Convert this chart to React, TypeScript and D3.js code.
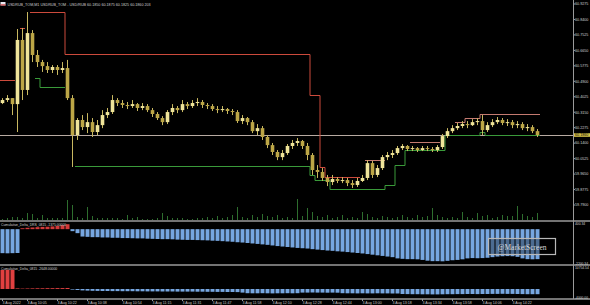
import React, { useEffect } from "react";
import * as d3 from "d3";

const titleText = "USDRUB_TOM,M1  USDRUB_TOM - USD/RUB  60.1850 60.1875 60.1825 60.1860  203";
const panel2Title = "Cumulative_Delta_DRS_0815 -1375.00000";
const panel3Title = "Cumulative_Delta_0815 -2648.00000";

const opens = [60.367, 60.384, 60.395, 60.361, 60.724, 60.441, 60.763, 60.639, 60.599, 60.576, 60.554, 60.571, 60.554, 60.565, 60.395, 60.186, 60.271, 60.231, 60.259, 60.203, 60.242, 60.299, 60.316, 60.384, 60.367, 60.356, 60.350, 60.361, 60.339, 60.350, 60.327, 60.305, 60.282, 60.259, 60.316, 60.339, 60.327, 60.361, 60.350, 60.367, 60.373, 60.356, 60.350, 60.333, 60.327, 60.333, 60.322, 60.316, 60.265, 60.282, 60.259, 60.208, 60.225, 60.175, 60.129, 60.090, 60.061, 60.084, 60.124, 60.141, 60.152, 60.124, 60.073, 59.988, 59.977, 59.943, 59.920, 59.937, 59.926, 59.931, 59.914, 59.903, 59.926, 59.943, 60.027, 59.960, 59.999, 60.061, 60.073, 60.084, 60.112, 60.124, 60.107, 60.112, 60.101, 60.112, 60.107, 60.101, 60.118, 60.180, 60.208, 60.225, 60.237, 60.248, 60.242, 60.259, 60.265, 60.214, 60.242, 60.259, 60.271, 60.254, 60.259, 60.242, 60.248, 60.225, 60.231, 60.208];
const closes = [60.384, 60.395, 60.361, 60.724, 60.441, 60.763, 60.639, 60.599, 60.576, 60.554, 60.571, 60.554, 60.565, 60.395, 60.186, 60.271, 60.231, 60.259, 60.203, 60.242, 60.299, 60.316, 60.384, 60.367, 60.356, 60.350, 60.361, 60.339, 60.350, 60.327, 60.305, 60.282, 60.259, 60.316, 60.339, 60.327, 60.361, 60.350, 60.367, 60.373, 60.356, 60.350, 60.333, 60.327, 60.333, 60.322, 60.316, 60.265, 60.282, 60.259, 60.208, 60.225, 60.175, 60.129, 60.090, 60.061, 60.084, 60.124, 60.141, 60.152, 60.124, 60.073, 59.988, 59.977, 59.943, 59.920, 59.937, 59.926, 59.931, 59.914, 59.903, 59.926, 59.943, 60.027, 59.960, 59.999, 60.061, 60.073, 60.084, 60.112, 60.124, 60.107, 60.112, 60.101, 60.112, 60.107, 60.101, 60.118, 60.180, 60.208, 60.225, 60.237, 60.248, 60.242, 60.259, 60.265, 60.214, 60.242, 60.259, 60.271, 60.254, 60.259, 60.242, 60.248, 60.225, 60.231, 60.208, 60.186];
const highs = [60.395, 60.412, 60.395, 60.786, 60.792, 60.882, 60.780, 60.667, 60.611, 60.599, 60.582, 60.582, 60.599, 60.611, 60.412, 60.282, 60.299, 60.310, 60.282, 60.271, 60.327, 60.339, 60.412, 60.395, 60.384, 60.373, 60.384, 60.367, 60.367, 60.361, 60.339, 60.316, 60.293, 60.327, 60.361, 60.350, 60.384, 60.373, 60.384, 60.395, 60.384, 60.367, 60.361, 60.350, 60.350, 60.339, 60.333, 60.327, 60.299, 60.288, 60.271, 60.248, 60.237, 60.186, 60.141, 60.101, 60.101, 60.135, 60.158, 60.169, 60.158, 60.141, 60.084, 60.016, 59.999, 59.960, 59.960, 59.948, 59.948, 59.943, 59.931, 59.943, 59.960, 60.044, 60.039, 60.016, 60.073, 60.090, 60.101, 60.124, 60.135, 60.129, 60.124, 60.118, 60.124, 60.124, 60.118, 60.129, 60.192, 60.225, 60.242, 60.254, 60.265, 60.265, 60.276, 60.282, 60.299, 60.259, 60.276, 60.288, 60.282, 60.276, 60.271, 60.265, 60.259, 60.248, 60.242, 60.220];
const lows = [60.361, 60.373, 60.299, 60.203, 60.384, 60.412, 60.599, 60.571, 60.543, 60.537, 60.537, 60.526, 60.537, 60.384, 60.005, 60.158, 60.214, 60.197, 60.175, 60.186, 60.225, 60.282, 60.305, 60.350, 60.339, 60.333, 60.339, 60.322, 60.327, 60.316, 60.288, 60.271, 60.242, 60.248, 60.299, 60.310, 60.316, 60.333, 60.339, 60.350, 60.339, 60.333, 60.322, 60.310, 60.316, 60.305, 60.299, 60.254, 60.248, 60.242, 60.197, 60.186, 60.158, 60.112, 60.073, 60.044, 60.044, 60.073, 60.107, 60.124, 60.107, 60.044, 59.960, 59.943, 59.926, 59.897, 59.903, 59.914, 59.914, 59.897, 59.886, 59.892, 59.920, 59.931, 59.943, 59.948, 59.988, 60.044, 60.056, 60.073, 60.101, 60.095, 60.095, 60.090, 60.095, 60.095, 60.090, 60.090, 60.107, 60.169, 60.197, 60.214, 60.225, 60.225, 60.237, 60.242, 60.186, 60.203, 60.231, 60.248, 60.242, 60.237, 60.225, 60.225, 60.214, 60.208, 60.197, 60.175];
const volumes = [10, 20, 30, 30, 20, 70, 60, 20, 50, 20, 20, 20, 20, 200, 150, 30, 20, 130, 40, 20, 20, 20, 20, 20, 10, 50, 20, 30, 10, 10, 10, 20, 70, 40, 20, 20, 20, 10, 10, 20,
  20, 30, 20, 40, 20, 30, 50, 130, 30, 20, 50, 30, 60, 40, 30, 50, 20, 30, 20, 210, 40, 120, 80, 40, 30, 50, 20, 30, 50, 20, 30, 20, 80, 60, 30, 20, 40, 30, 20, 30, 50, 30, 20, 50, 30, 40, 120, 50, 30, 20, 30, 20, 80, 30, 20, 70, 40, 50, 20, 30, 50, 40, 40, 140, 60, 40, 30, 70];

// resistance / support levels as runs over candle indices
const upperLevels = [
  { from: 0, to: 2, value: 60.497 }, { from: 4, to: 4, value: 60.792 }, { from: 6, to: 12, value: 60.882 },
  { from: 13, to: 61, value: 60.644 }, { from: 62, to: 63, value: 60.412 }, { from: 64, to: 64, value: 60.005 },
  { from: 65, to: 71, value: 59.948 }, { from: 73, to: 76, value: 60.044 }, { from: 82, to: 87, value: 60.146 },
  { from: 91, to: 92, value: 60.259 }, { from: 93, to: 95, value: 60.282 }, { from: 96, to: 107, value: 60.305 },
];
const lowerLevels = [
  { from: 7, to: 7, value: 60.509 }, { from: 8, to: 12, value: 60.458 }, { from: 15, to: 61, value: 60.010 },
  { from: 62, to: 62, value: 59.960 }, { from: 63, to: 65, value: 59.931 }, { from: 66, to: 76, value: 59.880 },
  { from: 77, to: 78, value: 59.903 }, { from: 79, to: 80, value: 60.016 }, { from: 81, to: 88, value: 60.101 },
  { from: 89, to: 95, value: 60.186 }, { from: 96, to: 96, value: 60.203 }, { from: 97, to: 107, value: 60.186 },
];

const deltaDrs = [-1560, -1570, -1560, -1550, 60, 90, 110, 130, 150, 160, 180, 210, 260, 320,
  -130, -260, -480, -500, -520, -520, -540, -540, -560, -560, -580, -580, -590, -600, -600, -620, -630, -640, -650, -650, -660, -680, -690, -700, -700, -710,
  -720, -730, -750, -760, -780, -800, -820, -850, -870, -900,
  -930, -960, -990, -1020, -1060, -1100, -1130, -1160, -1190, -1220,
  -1240, -1260, -1300, -1330, -1360, -1390, -1410, -1440, -1460, -1490,
  -1520, -1550, -1580, -1620, -1660, -1700, -1740, -1780, -1820, -1900,
  -1930, -1950, -1950, -1960, -2000, -2050, -2080, -2080, -2090, -2060,
  -2020, -2000, -1960, -1900, -1880, -1890, -1880, -1860, -1820, -1780,
  -1760, -1750, -1760, -1800, -1900, -1950, -1960, -1950];
const deltaCum = [9500, 9600, 9500, 300, 200, 250, 300, 350, 350, 400, 400, 450, 450, 500,
  -300, -500, -700, -800, -900, -950, -1000, -1000, -1050, -1050, -1100, -1100, -1100, -1150, -1150, -1200, -1200, -1200, -1250, -1250, -1250, -1300, -1300, -1300, -1300, -1350,
  -1350, -1400, -1400, -1450, -1450, -1500, -1500, -1550, -1800,
  -2100, -2150, -2150, -2100, -2150, -2200, -2150, -2150, -2100, -2150, -2100,
  -1800, -1800, -1750, -1800, -1800, -1850, -1800, -1850,
  -2100, -2150, -2150, -2200, -2150, -2200, -2200, -2150, -2200, -2200, -2250, -2250,
  -2500, -2550, -2600, -2600, -2650, -2650, -2700, -2700, -2650, -2600, -2600, -2550, -2550, -2500, -2500, -2550, -2500, -2500, -2450, -2450, -2400, -2450, -2450, -2500, -2550, -2600, -2600, -2600];

const priceTicks = [60.9275, 60.84, 60.7525, 60.665, 60.5775, 60.49, 60.4025, 60.315, 60.2275, 60.14, 60.0525, 59.965, 59.8775, 59.79];
const drsTicks = [400.34, -2200.34];
const cumTicks = [10754.54, -4000];
const timeTickIndex = [0, 5, 11, 17, 24, 30, 36, 42, 48, 54, 60, 66, 72, 78, 84, 90, 96, 102];
const timeTickLabels = ["3 Aug 2022", "3 Aug 10:05", "3 Aug 10:22", "3 Aug 10:38", "3 Aug 10:54", "3 Aug 11:15", "3 Aug 11:31", "3 Aug 11:47", "3 Aug 11:58", "3 Aug 12:10", "3 Aug 12:28", "3 Aug 12:44", "3 Aug 13:00", "3 Aug 13:18", "3 Aug 13:34", "3 Aug 13:58", "3 Aug 14:06", "3 Aug 14:22"];

const W = 590, H = 305, AX = 573.5;
const FONT = "'Liberation Sans', Arial, sans-serif";

function expand(levels: { from: number; to: number; value: number }[], n: number) {
  const arr: (number | null)[] = new Array(n).fill(null);
  levels.forEach((l) => { for (let i = l.from; i <= l.to; i++) arr[i] = l.value; });
  return arr;
}

function AxisLabel({ y, text, color, size = 3.7 }: { y: number; text: string; color: string; size?: number }) {
  return (
    <text x={575} y={y} fontFamily={FONT} fontSize={size} fill={color}>{text}</text>
  );
}

export default function App() {
  useEffect(() => { document.body.style.margin = "0"; document.body.style.background = "#000"; }, []);
  const n = closes.length;
  const x = d3.scaleLinear().domain([0, n]).range([0, 540]);
  const yP = d3.scaleLinear().domain([59.79, 60.9275]).range([205, 4]);
  const yV = d3.scaleLinear().domain([0, 220]).range([220, 198]);
  const yD = d3.scaleLinear().domain([-2200.34, 400.34]).range([263, 223]);
  const yC = d3.scaleLinear().domain([-4000, 11000]).range([297, 267]);

  const levelPath = (vals: (number | null)[], keep: (i: number) => boolean) => {
    const pts: { x: number; v: number | null }[] = [];
    vals.forEach((v, i) => {
      const vv = keep(i) ? v : null;
      pts.push({ x: x(i), v: vv }, { x: x(i + 1), v: vv });
    });
    return d3.line<{ x: number; v: number | null }>().defined((d) => d.v != null).x((d) => d.x).y((d) => Math.round(yP(d.v as number)) + 0.5)(pts) || "";
  };
  const upper = expand(upperLevels, n);
  const lower = expand(lowerLevels, n);
  const last = closes[n - 1];

  return (
    <div style={{ position: "absolute", left: 0, top: 0, width: W, height: H, background: "#000" }}>
      <svg width={W} height={H} style={{ display: "block" }}>
        <rect width={W} height={H} fill="#000" />
        {/* volumes */}
        {volumes.map((v, i) => (
          <rect key={"v" + i} x={x(i) + 2} y={yV(v)} width={1} height={yV(0) - yV(v)} fill="#2e6e2e" />
        ))}
        {/* current price line */}
        <line x1={0} x2={AX} y1={Math.round(yP(last)) + 0.5} y2={Math.round(yP(last)) + 0.5} stroke="#b8aaa2" strokeWidth={1} />
        {/* levels */}
        <path d={levelPath(upper, (i) => i < 72)} fill="none" stroke="#cc4a3c" strokeWidth={1} />
        <path d={levelPath(upper, (i) => i >= 72)} fill="none" stroke="#c47a70" strokeWidth={1} />
        <path d={levelPath(lower, () => true)} fill="none" stroke="#3a9a3a" strokeWidth={1} />
        {/* candles */}
        {closes.map((c, i) => {
          const o = opens[i];
          const cx = x(i) + 2.5;
          const top = yP(Math.max(o, c));
          const bot = yP(Math.min(o, c));
          const up = c >= o;
          return (
            <g key={"c" + i}>
              <line x1={cx} x2={cx} y1={yP(highs[i])} y2={yP(lows[i])} stroke="#c8b860" strokeWidth={1} />
              <rect x={cx - 1.8} y={top} width={3.6} height={Math.max(1, bot - top)} fill={up ? "#efe49a" : "#bca646"} />
            </g>
          );
        })}
        {/* panel 2 */}
        {deltaDrs.map((v, i) => (
          <rect key={"d" + i} x={x(i) + 0.5} width={4} y={Math.min(yD(v), yD(0))} height={Math.abs(yD(v) - yD(0))} fill={v >= 0 ? "#d23a3a" : "#76a6e0"} />
        ))}
        {/* panel 3 */}
        {deltaCum.map((v, i) => (
          <rect key={"u" + i} x={x(i) + 0.5} width={4} y={Math.min(yC(v), yC(0))} height={Math.abs(yC(v) - yC(0))} fill={v >= 0 ? "#e04040" : "#76a6e0"} />
        ))}
        {/* watermark */}
        <rect x={488.5} y={238.5} width={67} height={16} fill="rgba(0,0,0,0.35)" stroke="#b8b8b8" strokeWidth={1.2} />
        <text x={522} y={249.5} textAnchor="middle" fontFamily="'Liberation Serif', 'Times New Roman', serif" fontSize={7.5} fill="#d8d8d8">@MarketScreen</text>
        {/* separators and axis */}
        {[221, 265, 299].map((yy) => (
          <line key={"s" + yy} x1={0} x2={W} y1={yy} y2={yy} stroke="#9a9a9a" strokeWidth={1.5} />
        ))}
        <line x1={AX} x2={AX} y1={0} y2={299} stroke="#9a9a9a" strokeWidth={1} />
        {priceTicks.map((t) => (
          <g key={"p" + t}>
            <line x1={AX} x2={AX + 1.5} y1={yP(t)} y2={yP(t)} stroke="#9a9a9a" />
            <AxisLabel y={yP(t) + 1.3} text={t.toFixed(4)} color="#d0d0d0" />
          </g>
        ))}
        <rect x={574} y={yP(last) - 1.8} width={16} height={3.6} fill="#d6c44a" />
        <AxisLabel y={yP(last) + 1.3} text={last.toFixed(4)} color="#000" />
        {drsTicks.map((t) => (
          <AxisLabel key={"dt" + t} y={yD(t) + 1.8} text={t.toFixed(2)} color="#d0d0d0" size={3.3} />
        ))}
        {cumTicks.map((t) => (
          <AxisLabel key={"ct" + t} y={yC(t) + 1.5} text={t.toFixed(2)} color="#d0d0d0" size={3.3} />
        ))}
        {/* titles */}
        <rect x={0.5} y={2} width={5} height={3.5} fill="#e8e8f0" />
        <rect x={0.5} y={4.3} width={5} height={1.2} fill="#d04040" />
        <text x={7.5} y={5.5} fontFamily={FONT} fontSize={3.7} fill="#cfcfcf">{titleText}</text>
        <text x={1} y={225.5} fontFamily={FONT} fontSize={3.4} fill="#cfcfcf">{panel2Title}</text>
        <text x={1} y={269.5} fontFamily={FONT} fontSize={3.4} fill="#cfcfcf">{panel3Title}</text>
        {/* time axis */}
        {timeTickIndex.map((ti, k) => (
          <g key={"t" + k}>
            <line x1={x(ti) + 2.5} x2={x(ti) + 2.5} y1={299} y2={301} stroke="#9a9a9a" />
            <text x={x(ti) + 2.5} y={303.8} fontFamily={FONT} fontSize={3.6} fill="#c8c8c8">{timeTickLabels[k]}</text>
          </g>
        ))}
      </svg>
    </div>
  );
}
